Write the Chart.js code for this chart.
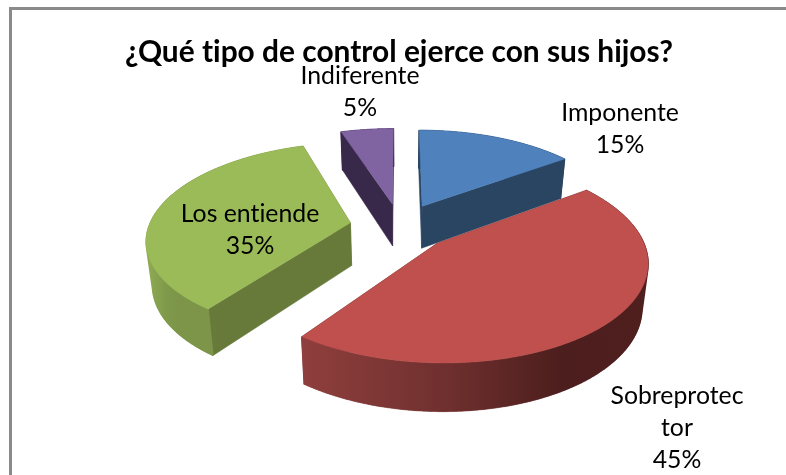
<!DOCTYPE html>
<html><head><meta charset="utf-8">
<script src="https://cdn.jsdelivr.net/npm/chart.js@4"></script>
<style>html,body{margin:0;padding:0;background:#fff}#w{position:relative;width:786px;height:475px;overflow:hidden}
#w:before{content:"";position:absolute;left:9px;top:7px;right:-10px;bottom:-10px;border:3px solid #8a8a8a;pointer-events:none}</style>
</head><body><div id="w"><canvas id="c" width="786" height="475"></canvas></div>
<script>
const chartTitle = '¿Qué tipo de control ejerce con sus hijos?';
const categories = ['Imponente', 'Sobreprotector', 'Los entiende', 'Indiferente'];
const values = [15, 45, 35, 5];
const topColors = ['#4F81BD', '#BF504D', '#9BBB59', '#8064A2'];
const faceColors = ['#2A4562', '#4E201F', '#677A3A', '#38284A'];
const rimStops = [
  [[0, '#2A4562'], [1, '#2A4562']],
  [[0, '#8F3F3D'], [.43, '#6E2F2E'], [.75, '#4C1E1D'], [1, '#4F1F1E']],
  [[0, '#90AC54'], [.12, '#809A4B'], [.2, '#7C9548'], [1, '#7C9548']],
  [[0, '#38284A'], [1, '#38284A']]
];
const labelLines = [['Imponente', '15%'], ['Sobreprotec', 'tor', '45%'], ['Los entiende', '35%'], ['Indiferente', '5%']];
const labelAnchors = [[620, 113], [677, 396], [250, 214], [360, 76]];
const drawOrder = [3, 0, 2, 1];

const TILT = 0.467, PERSP = 0.16, DEPTH = 43, SHRINK = 0.975, SHIFT_X = 1, FONT = 'Lato, "Open Sans", sans-serif';

const pie3d = {
  id: 'pie3d',
  beforeDraw(chart) { chart.ctx.textRendering = 'optimizeSpeed'; },
  beforeDatasetsDraw(chart) {
    const meta = chart.getDatasetMeta(0), ctx = chart.ctx;
    const project = (el, ang, rad, low) => {
      const R = el.outerRadius, mid = (el.startAngle + el.endAngle) / 2, off = el.options.offset;
      const u = (off * Math.cos(mid) + rad * Math.cos(ang)) / R;
      const v = (off * Math.sin(mid) + rad * Math.sin(ang)) / R;
      const w = 1 - PERSP * v;
      let x = R * u / w, y = R * TILT * v / w;
      if (low) { x *= SHRINK; y += DEPTH / (1 - 0.1 * v); }
      return [el.x + SHIFT_X + x, el.y + y];
    };
    const arcPts = (el, low) => {
      const n = 360, pts = [];
      for (let i = 0; i <= n; i++) {
        const a = el.startAngle + (el.endAngle - el.startAngle) * i / n;
        pts.push(project(el, a, el.outerRadius, low));
      }
      return pts;
    };
    const poly = (pts, fill) => {
      ctx.beginPath();
      pts.forEach((p, i) => i ? ctx.lineTo(p[0], p[1]) : ctx.moveTo(p[0], p[1]));
      ctx.closePath(); ctx.fillStyle = fill; ctx.fill();
      ctx.strokeStyle = fill; ctx.lineWidth = 0.5; ctx.stroke();
    };
    drawOrder.forEach(i => {
      const el = meta.data[i];
      const top = arcPts(el, false), low = arcPts(el, true);
      const apexT = project(el, 0, 0, false), apexL = project(el, 0, 0, true);
      poly([apexT, top[0], low[0], apexL], faceColors[i]);
      poly([apexT, top[top.length - 1], low[low.length - 1], apexL], faceColors[i]);
      const xs = top.concat(low).map(p => p[0]);
      const x0 = Math.min(...xs), x1 = Math.max(...xs);
      const g = ctx.createLinearGradient(x0, 0, x1, 0);
      rimStops[i].forEach(s => g.addColorStop(s[0], s[1]));
      poly(top.concat(low.slice().reverse()), g);
      ctx.beginPath();
      top.forEach((p, k) => { ctx.moveTo(p[0], p[1]); ctx.lineTo(low[k][0], low[k][1]); });
      ctx.strokeStyle = g; ctx.lineWidth = 1.5; ctx.stroke();
      poly([apexT].concat(top), topColors[i]);
    });
    return false;
  },
  afterDraw(chart) {
    const ctx = chart.ctx;
    ctx.save();
    ctx.font = '24.8px ' + FONT; ctx.fillStyle = '#000';
    ctx.textAlign = 'center'; ctx.textBaseline = 'middle';
    labelLines.forEach((lines, i) => lines.forEach((t, j) =>
      ctx.fillText(t, labelAnchors[i][0], labelAnchors[i][1] + j * 32)));
    ctx.restore();
  }
};

new Chart(document.getElementById('c'), {
  type: 'pie',
  data: { labels: categories, datasets: [{ data: values, backgroundColor: topColors, borderWidth: 0, offset: 50.5, radius: 201.5 }] },
  options: {
    responsive: false, animation: false,
    layout: { padding: { left: 12, right: 0, top: 0, bottom: 92 } },
    plugins: {
      legend: { display: false }, tooltip: { enabled: false },
      title: { display: true, text: chartTitle, color: '#000', align: 'center',
        font: { family: FONT, size: 29.9, weight: 'bold', lineHeight: 1.2 }, padding: { top: 34, bottom: 0 } }
    }
  },
  plugins: [pie3d]
});
</script></body></html>
